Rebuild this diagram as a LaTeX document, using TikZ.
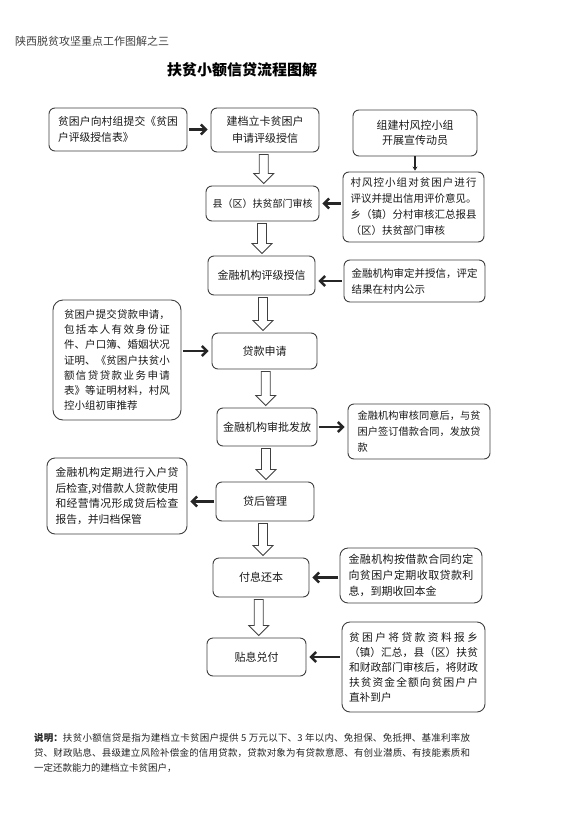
\documentclass[tikz,border=0pt]{standalone}
\usepackage{fontspec}
\setmainfont{Noto Sans CJK SC}
\usetikzlibrary{arrows.meta,calc}
\XeTeXlinebreaklocale "zh"
\XeTeXlinebreakskip=0pt plus 1pt
\tolerance=10000
\hbadness=10000
\setlength\parindent{0pt}
\tikzset{
  box/.style={draw=black!75, line width=0.9pt, rounded corners=6pt, inner sep=0pt, text=black!90},
  cbox/.style={box, align=center, font=\fontsize{11}{17}\selectfont},
  jbox/.style={box, align=justify, text width=#1},
  sarr/.style={draw=black!85, line width=2.4pt, -{Straight Barb[length=5pt,width=10pt]}, shorten <=2pt, shorten >=3pt},
  tarr/.style={draw=black!85, line width=1.5pt, -{Stealth[length=4pt,width=5pt]}, shorten >=1pt},
  hol/.style={draw=black!75, line width=0.8pt, fill=white, line join=miter}
}
\newcommand\hollowdown[2]{%
  \draw[hol] let \p1=(#1.south), \p2=(#2.north), \p3=($(#1.south)!0.5!(#2.north)$) in
  ({\x3-4.5pt},{\y1-2pt}) -- ({\x3+4.5pt},{\y1-2pt}) -- ({\x3+4.5pt},{\y2+12pt}) --
  ({\x3+10pt},{\y2+12pt}) -- (\x3,{\y2+2pt}) -- ({\x3-10pt},{\y2+12pt}) --
  ({\x3-4.5pt},{\y2+12pt}) -- cycle;}
\begin{document}
\begin{tikzpicture}[x=1pt,y=-1pt]
\fill[white] (0,0) rectangle (576,816);
\useasboundingbox (0,0) rectangle (576,816);

\node[anchor=west, inner sep=0pt, text=black!75, font=\fontsize{11}{13}\selectfont] (hdr) at (15,41) {陕西脱贫攻坚重点工作图解之三};
\node[inner sep=0pt, font=\bfseries\fontsize{15}{18}\selectfont] (ttl) at (242,70) {扶贫小额信贷流程图解};

% row 1
\node[jbox=120pt, minimum width=138pt, minimum height=43pt, font=\fontsize{10.8}{16}\selectfont] (A) at (118,129.5) {贫困户向村组提交《贫困\linebreak 户评级授信表》};
\node[cbox, minimum width=108pt, minimum height=44pt] (B) at (265,130) {建档立卡贫困户\\申请评级授信};
\node[cbox, minimum width=124pt, minimum height=46pt, font=\fontsize{11}{15}\selectfont] (C) at (415,133) {组建村风控小组\\开展宣传动员};

% row 2
\node[jbox=126pt, minimum width=141pt, minimum height=70pt, font=\fontsize{10.5}{16}\selectfont] (D) at (413.5,207) {村风控小组对贫困户进行\linebreak 评议并提出信用评价意见。\linebreak 乡（镇）分村审核汇总报县\linebreak （区）扶贫部门审核};
\node[cbox, minimum width=113pt, minimum height=35pt, font=\fontsize{10}{14}\selectfont] (E) at (262.5,203.5) {县（区）扶贫部门审核};

% row 3
\node[cbox, minimum width=107pt, minimum height=39pt] (F) at (261.5,275.5) {金融机构评级授信};
\node[jbox=126pt, minimum width=141pt, minimum height=42pt, font=\fontsize{10.5}{16}\selectfont] (G) at (414.5,281) {金融机构审定并授信，评定\linebreak 结果在村内公示};

% row 4
\node[cbox, minimum width=105pt, minimum height=36pt] (H) at (264.5,351) {贷款申请};
\node[jbox=106pt, rounded corners=10pt, minimum width=128pt, minimum height=120pt, font=\fontsize{10.5}{15.3}\selectfont] (I) at (117,360) {贫困户提交贷款申请，\linebreak 包括本人有效身份证\linebreak 件、户口簿、婚姻状况\linebreak 证明、《贫困户扶贫小\linebreak 额信贷贷款业务申请\linebreak 表》等证明材料，村风\linebreak 控小组初审推荐};

% row 5
\node[cbox, minimum width=100pt, minimum height=38pt] (J) at (267,427) {金融机构审批发放};
\node[jbox=123pt, minimum width=142pt, minimum height=55pt, font=\fontsize{10.2}{16}\selectfont] (K) at (419,431.5) {金融机构审核同意后，与贫\linebreak 困户签订借款合同，发放贷\linebreak 款};

% row 6
\node[cbox, minimum width=98pt, minimum height=39pt] (L) at (265,501.5) {贷后管理};
\node[jbox=123pt, rounded corners=8pt, minimum width=140pt, minimum height=76pt, font=\fontsize{10.8}{15.7}\selectfont] (M) at (117,496) {金融机构定期进行入户贷\linebreak 后检查,对借款人贷款使用\linebreak 和经营情况形成贷后检查\linebreak 报告，并归档保管};

% row 7
\node[cbox, minimum width=96pt, minimum height=39pt] (N) at (261,577.5) {付息还本};
\node[jbox=125pt, rounded corners=8pt, minimum width=142pt, minimum height=55pt, font=\fontsize{11}{16}\selectfont] (O) at (411,575.5) {金融机构按借款合同约定\linebreak 向贫困户定期收取贷款利\linebreak 息，到期收回本金};

% row 8
\node[cbox, minimum width=99pt, minimum height=38pt] (P) at (256.5,657) {贴息兑付};
\node[jbox=129pt, rounded corners=8pt, minimum width=143pt, minimum height=90pt, font=\fontsize{10.7}{15}\selectfont] (Q) at (413.5,667) {贫困户将贷款资料报乡\linebreak （镇）汇总，县（区）扶贫\linebreak 和财政部门审核后，将财政\linebreak 扶贫资金全额向贫困户户\linebreak 直补到户};

% description
\node[anchor=north west, inner sep=0pt, text width=436pt, align=justify, font=\fontsize{9.5}{15}\selectfont, text=black!85] (desc) at (34,733) {\textbf{说明：}扶贫小额信贷是指为建档立卡贫困户提供 5 万元以下、3 年以内、免担保、免抵押、基准利率放\linebreak 贷、财政贴息、县级建立风险补偿金的信用贷款，贷款对象为有贷款意愿、有创业潜质、有技能素质和\linebreak 一定还款能力的建档立卡贫困户，};

% solid arrows
\draw[sarr] (A.east) -- (A.east -| B.west);
\draw[tarr] (C.south) -- (C.south |- D.north);
\draw[sarr] (D.west |- E.east) -- (E.east);
\draw[sarr] (G.west) -- (G.west -| F.east);
\draw[sarr] (I.east |- H.west) -- (H.west);
\draw[sarr] (J.east) -- (J.east -| K.west);
\draw[sarr] (L.west) -- (L.west -| M.east);
\draw[sarr] (O.west |- N.east) -- (N.east);
\draw[sarr] (Q.west |- P.east) -- (P.east);

% hollow arrows
\hollowdown{B}{E}
\hollowdown{E}{F}
\hollowdown{F}{H}
\hollowdown{H}{J}
\hollowdown{J}{L}
\hollowdown{L}{N}
\hollowdown{N}{P}
\end{tikzpicture}
\end{document}
